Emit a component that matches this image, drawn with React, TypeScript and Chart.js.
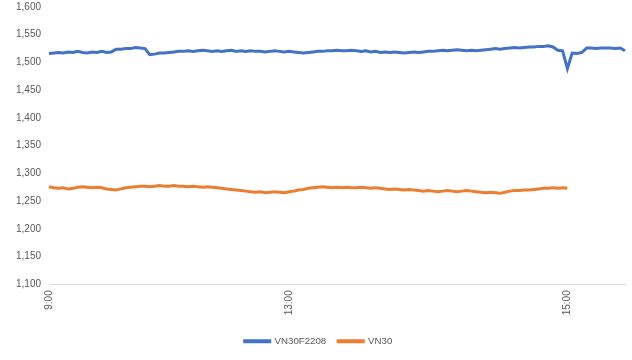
import React, { useEffect, useRef } from "react";
import { Chart, registerables } from "chart.js";

Chart.register(...registerables);

// x positions are trade-sequence points; only a few carry tick labels
const tickIndex = [0, 50, 108];
const tickText = ["9:00", "13:00", "15:00"];

const vn30f2208 = [
  1516, 1517, 1518, 1517, 1519, 1518, 1520, 1518, 1517, 1519,
  1518, 1520, 1518, 1519, 1524, 1524, 1525, 1525, 1527, 1526,
  1525, 1514, 1515, 1517, 1517, 1518, 1519, 1520, 1520, 1521,
  1520, 1521, 1522, 1521, 1520, 1521, 1520, 1521, 1522, 1520,
  1521, 1520, 1521, 1520, 1520, 1519, 1520, 1521, 1520, 1519,
  1520, 1519, 1518, 1517, 1518, 1519, 1520, 1520, 1521, 1521,
  1522, 1521, 1521, 1522, 1521, 1520, 1521, 1519, 1520, 1518,
  1519, 1518, 1519, 1518, 1517, 1518, 1519, 1518, 1519, 1520,
  1520, 1521, 1522, 1521, 1522, 1523, 1522, 1521, 1522, 1521,
  1522, 1523, 1524, 1525, 1524, 1525, 1526, 1527, 1526, 1527,
  1528, 1528, 1529, 1529, 1530, 1528, 1522, 1521, 1489, 1517,
  1516, 1518, 1526, 1526, 1525, 1526, 1526, 1526, 1525, 1526,
  1521,
];

const vn30 = [
  1276, 1274, 1273, 1274, 1272, 1273, 1275, 1276, 1275, 1274,
  1275, 1274, 1272, 1271, 1270, 1272, 1274, 1275, 1276, 1277,
  1277, 1276, 1277, 1278, 1277, 1277, 1278, 1277, 1277, 1276,
  1277, 1276, 1275, 1276, 1275, 1274, 1273, 1272, 1271, 1270,
  1269, 1268, 1267, 1266, 1267, 1265, 1266, 1267, 1266, 1265,
  1267, 1268, 1270, 1271, 1273, 1274, 1275, 1276, 1275, 1274,
  1275, 1274, 1275, 1274, 1274, 1275, 1274, 1273, 1274, 1273,
  1272, 1271, 1272, 1271, 1270, 1271, 1270, 1269, 1268, 1269,
  1268, 1267, 1268, 1269, 1268, 1267, 1268, 1269, 1268, 1267,
  1266, 1265, 1266, 1265, 1264, 1266, 1268, 1269, 1269, 1270,
  1270, 1271, 1272, 1273, 1273, 1274, 1273, 1274, 1273,
];

const categories = vn30f2208.map((_, i) => String(i));

const TEXT = "#595959";
const FONT = "'Liberation Sans', Arial, sans-serif";

export default function App() {
  const ref = useRef<HTMLCanvasElement | null>(null);

  useEffect(() => {
    if (!ref.current) return;
    const chart = new Chart(ref.current, {
      type: "line",
      data: {
        labels: categories,
        datasets: [
          {
            label: "VN30F2208",
            data: vn30f2208,
            borderColor: "#4472C4",
            backgroundColor: "#4472C4",
            borderWidth: 3,
            pointRadius: 0,
            tension: 0,
          },
          {
            label: "VN30",
            data: vn30,
            borderColor: "#ED7D31",
            backgroundColor: "#ED7D31",
            borderWidth: 3,
            pointRadius: 0,
            tension: 0,
          },
        ],
      },
      options: {
        responsive: false,
        animation: false,
        layout: { padding: { top: 7, right: 7, bottom: 4, left: 12 } },
        plugins: {
          tooltip: { enabled: false },
          legend: {
            position: "bottom",
            labels: {
              boxWidth: 25,
              boxHeight: 1,
              padding: 12,
              color: TEXT,
              font: { family: FONT, size: 9.7 },
            },
          },
        },
        scales: {
          x: {
            offset: false,
            grid: { display: false, drawTicks: false },
            border: { display: true, color: "#D9D9D9", width: 1 },
            afterFit: (s: any) => {
              s.height = 40;
            },
            ticks: {
              autoSkip: false,
              maxRotation: 90,
              minRotation: 90,
              padding: 6,
              color: TEXT,
              font: { family: FONT, size: 10 },
              callback: (_v: any, i: number) => {
                const k = tickIndex.indexOf(i);
                return k >= 0 ? tickText[k] : null;
              },
            },
          },
          y: {
            min: 1100,
            max: 1600,
            grid: {
              display: true,
              drawOnChartArea: false,
              drawTicks: true,
              tickLength: 8,
              color: "rgba(0,0,0,0)",
            },
            border: { display: false },
            afterFit: (s: any) => {
              s.width = 37;
            },
            ticks: {
              stepSize: 50,
              padding: 0,
              color: TEXT,
              font: { family: FONT, size: 10 },
              callback: (v: any) => Number(v).toLocaleString("en-US"),
            },
          },
        },
      },
    });
    return () => chart.destroy();
  }, []);

  return (
    <div style={{ position: "fixed", left: 0, top: 0, width: 632, height: 360, background: "#fff" }}>
      <canvas ref={ref} width={632} height={360} style={{ display: "block" }} />
    </div>
  );
}
